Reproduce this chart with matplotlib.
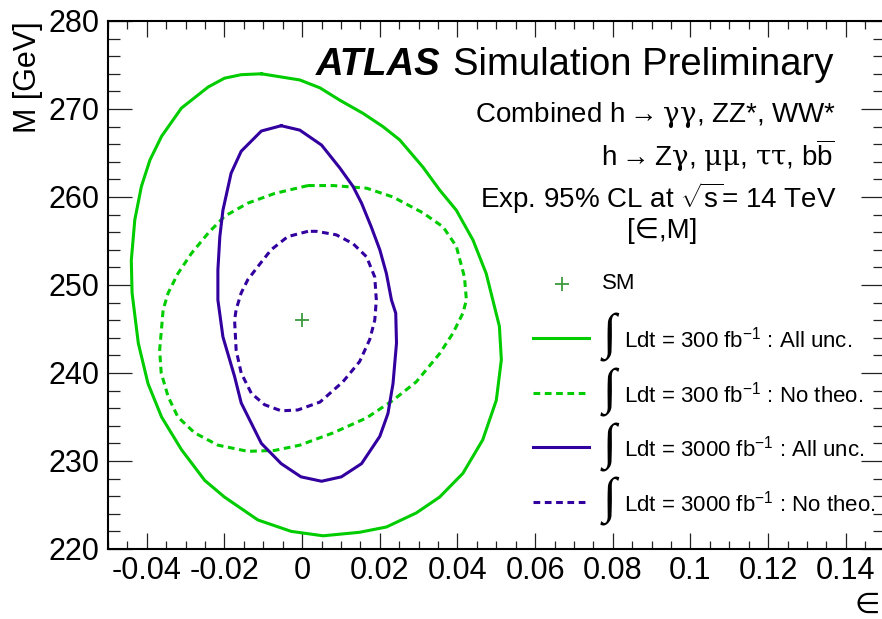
import matplotlib
matplotlib.use("Agg")
import matplotlib.pyplot as plt
from matplotlib.lines import Line2D
from matplotlib.ticker import MultipleLocator

plt.rcParams['font.family'] = ['Liberation Sans', 'DejaVu Sans']
plt.rcParams['mathtext.fontset'] = 'custom'
plt.rcParams['mathtext.rm'] = 'Liberation Sans'
plt.rcParams['mathtext.it'] = 'DejaVu Serif'
plt.rcParams['mathtext.bf'] = 'Liberation Sans:bold'
plt.rcParams['mathtext.sf'] = 'Liberation Sans'

# ---------------- data ----------------
# 300 fb-1, all uncertainties
eps_300_all = [-0.0105, -0.0157, -0.0200, -0.0242, -0.0311, -0.0362, -0.0392, -0.0414,
               -0.0431, -0.0440, -0.0438, -0.0422, -0.0397, -0.0362, -0.0311, -0.0251,
               -0.0200, -0.0114, -0.0028, 0.0054, 0.0148, 0.0217, 0.0294, 0.0354,
               0.0414, 0.0465, 0.0500, 0.0513, 0.0508, 0.0491, 0.0474, 0.0440,
               0.0397, 0.0354, 0.0311, 0.0251, 0.0208, 0.0157, 0.0097, 0.0046, -0.0006]
M_300_all = [274.0, 273.9, 273.5, 272.5, 270.1, 266.9, 264.2, 261.2,
             257.4, 252.8, 249.1, 243.4, 238.8, 235.0, 231.3, 227.8,
             225.9, 223.3, 222.0, 221.5, 221.9, 222.5, 224.1, 225.9,
             228.6, 232.4, 236.9, 241.5, 245.3, 248.3, 251.3, 255.1,
             258.5, 260.8, 263.4, 266.5, 268.0, 269.5, 271.0, 272.4, 273.3]

# 300 fb-1, no theory uncertainties
eps_300_noth = [0.0015, -0.0071, -0.0140, -0.0200, -0.0242, -0.0285, -0.0320, -0.0345,
                -0.0358, -0.0363, -0.0367, -0.0363, -0.0345, -0.0320, -0.0277, -0.0217,
                -0.0140, -0.0071, -0.0006, 0.0080, 0.0166, 0.0234, 0.0294, 0.0354,
                0.0388, 0.0414, 0.0423, 0.0418, 0.0397, 0.0363, 0.0311, 0.0234,
                0.0166, 0.0080]
M_300_noth = [261.3, 260.4, 259.3, 257.8, 255.9, 253.6, 251.3, 249.1,
              247.2, 244.6, 242.6, 240.0, 237.3, 235.0, 233.2, 231.8,
              231.1, 231.2, 231.8, 233.2, 234.9, 236.9, 239.0, 242.2,
              244.5, 246.8, 248.3, 250.9, 254.4, 256.6, 258.2, 260.0,
              261.0, 261.3]

# 3000 fb-1, all uncertainties
eps_3000_all = [-0.0054, -0.0105, -0.0157, -0.0183, -0.0204, -0.0212, -0.0217, -0.0217,
                -0.0204, -0.0174, -0.0157, -0.0105, -0.0054, -0.0003, 0.0050, 0.0101,
                0.0153, 0.0200, 0.0221, 0.0234, 0.0243, 0.0241, 0.0230, 0.0217,
                0.0200, 0.0178, 0.0153, 0.0131, 0.0097, 0.0050, -0.0006]
M_3000_all = [268.1, 267.5, 265.2, 262.7, 258.5, 255.5, 251.7, 248.3,
              244.1, 239.6, 236.6, 232.0, 229.7, 228.2, 227.7, 228.2,
              229.7, 232.8, 235.4, 238.8, 243.4, 246.8, 248.3, 251.3,
              254.0, 256.6, 259.3, 261.2, 263.3, 265.9, 267.6]

# 3000 fb-1, no theory uncertainties
eps_3000_noth = [0.0015, -0.0037, -0.0080, -0.0114, -0.0140, -0.0157, -0.0170, -0.0174,
                 -0.0170, -0.0157, -0.0131, -0.0097, -0.0054, -0.0011, 0.0046, 0.0105,
                 0.0148, 0.0174, 0.0187, 0.0191, 0.0187, 0.0166, 0.0131, 0.0088, 0.0037]
M_3000_noth = [256.1, 255.5, 254.0, 252.1, 250.6, 249.1, 247.2, 246.0,
               242.6, 240.0, 237.7, 236.4, 235.7, 235.8, 236.7, 239.0,
               241.3, 243.8, 246.0, 248.3, 250.9, 253.2, 254.7, 255.7, 256.1]

# Standard Model point
sm_eps = [0.0]
sm_M = [246.0]

x_ticks = [-0.04, -0.02, 0, 0.02, 0.04, 0.06, 0.08, 0.1, 0.12, 0.14]
x_ticklabels = ["-0.04", "-0.02", "0", "0.02", "0.04", "0.06", "0.08", "0.1", "0.12", "0.14"]
y_ticks = [220, 230, 240, 250, 260, 270, 280]

legend_labels = ["SM",
                 "Ldt = 300 fb$^{\\mathrm{-1}}$ : All unc.",
                 "Ldt = 300 fb$^{\\mathrm{-1}}$ : No theo.",
                 "Ldt = 3000 fb$^{\\mathrm{-1}}$ : All unc.",
                 "Ldt = 3000 fb$^{\\mathrm{-1}}$ : No theo."]

# ---------------- styles ----------------
GREEN = '#00cc00'
PURPLE = '#3300a0'
SMGREEN = '#3c9a3c'
LW = 2.2
DASH = (0, (2.2, 1.5))

W, H = 882, 619
fig = plt.figure(figsize=(W / 100, H / 100), dpi=100)
ax = fig.add_axes([108 / W, 70 / H, 776.6 / W, 528 / H])


def closed(a):
    return list(a) + [a[0]]


ax.plot(closed(eps_300_all), closed(M_300_all), color=GREEN, lw=LW)
ax.plot(closed(eps_300_noth), closed(M_300_noth), color=GREEN, lw=LW, linestyle=DASH)
ax.plot(closed(eps_3000_all), closed(M_3000_all), color=PURPLE, lw=LW)
ax.plot(closed(eps_3000_noth), closed(M_3000_noth), color=PURPLE, lw=LW, linestyle=DASH)
ax.plot(sm_eps, sm_M, linestyle='none', marker='+', color=SMGREEN, markersize=9.5, mew=1.3)

ax.set_xlim(-0.05, 0.15)
ax.set_ylim(220, 280)
ax.set_xticks(x_ticks)
ax.set_xticklabels(x_ticklabels)
ax.set_yticks(y_ticks)
ax.xaxis.set_minor_locator(MultipleLocator(0.005))
ax.yaxis.set_minor_locator(MultipleLocator(2))
ax.tick_params(axis='both', which='both', direction='in', top=True, right=True,
               width=0.9, color='#222222', labelsize=22)
ax.tick_params(axis='x', which='major', length=11.5, pad=5)
ax.tick_params(axis='x', which='minor', length=5.5)
ax.tick_params(axis='y', which='major', length=17, pad=6)
ax.tick_params(axis='y', which='minor', length=8.4)
for s in ax.spines.values():
    s.set_linewidth(1.5)


def fx(px):
    return px / W


def fy(py):
    return 1 - py / H


# axis labels
fig.text(fx(28), fy(21), "M [GeV]", rotation=90, ha='center', va='top', fontsize=22)
fig.text(fx(880), fy(591), "\u2208", ha='right', va='top', fontsize=21,
         family=['DejaVu Sans'])

# header text
fig.text(fx(316), fy(75), "ATLAS", fontsize=27.5, fontweight='bold', fontstyle='italic',
         ha='left', va='baseline')
fig.text(fx(833), fy(75), "Simulation Preliminary", fontsize=27.5, ha='right', va='baseline')
fig.text(fx(836), fy(122), "Combined h$\\rightarrow\\gamma\\gamma$, ZZ*, WW*",
         fontsize=20, ha='right', va='baseline')
fig.text(fx(834), fy(166.5), "h$\\rightarrow$Z$\\gamma$, $\\mu\\mu$, $\\tau\\tau$, b$\\overline{\\mathrm{b}}$",
         fontsize=20, ha='right', va='baseline')
fig.text(fx(837), fy(208.5), "Exp. 95% CL at $\\sqrt{\\mathrm{s}}$= 14 TeV",
         fontsize=20, ha='right', va='baseline')
fig.text(fx(662), fy(238), "[\u2208,M]", fontsize=20, ha='center', va='baseline')

# legend (manual)
leg_y = [283.5, 337.5, 392.5, 447, 501.5]
fig.add_artist(Line2D([fx(562)], [fy(leg_y[0])], linestyle='none', marker='+',
                      color=SMGREEN, markersize=9.5, mew=1.3))
fig.text(fx(602), fy(leg_y[0]), legend_labels[0], fontsize=16, ha='left', va='center')
styles = [(GREEN, '-'), (GREEN, DASH), (PURPLE, '-'), (PURPLE, DASH)]
for i, (c, ls) in enumerate(styles):
    y = leg_y[i + 1]
    fig.add_artist(Line2D([fx(533), fx(589)], [fy(y), fy(y)], color=c, lw=LW, linestyle=ls))
    fig.text(fx(609), fy(y), "\u222b", fontsize=36, ha='center', va='center',
             family=['Liberation Serif', 'DejaVu Sans'])
    fig.text(fx(624), fy(y + 10), legend_labels[i + 1], fontsize=16, ha='left', va='baseline')

fig.savefig("out.png", dpi=100)
